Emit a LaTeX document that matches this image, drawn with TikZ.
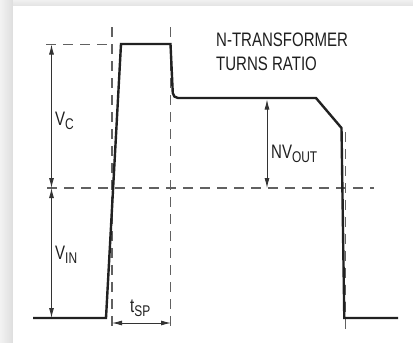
\documentclass[tikz,border=0pt]{standalone}
\usepackage{fontspec}
\setmainfont{Liberation Sans}[FakeStretch=0.77]
\usetikzlibrary{arrows.meta}
\newcommand\subtxt[1]{\raisebox{-4.5pt}{\fontsize{15.5}{15.5}\selectfont #1}}
\begin{document}
\begin{tikzpicture}[x=1pt,y=-1pt,
  lbl/.style={inner sep=0pt, anchor=base west, text=black!88, font=\fontsize{19.5}{23}\selectfont},
  pulse/.style={line width=2.4pt, draw=black!87, line join=miter},
  guide/.style={line width=1.3pt, draw=black!62, dash pattern=on 10pt off 7pt},
  dim/.style={line width=0.9pt, draw=black!80, {Latex[length=10pt,width=5pt]}-{Latex[length=10pt,width=5pt]}}]
\useasboundingbox (0,0) rectangle (413,343);
\shade[left color=black!5, right color=black!13] (0,0) rectangle (13,343);
\shade[top color=black!6, bottom color=black!11] (13,0) rectangle (413,6);
\fill[white] (13,6) rectangle (413,343);
% coordinates
\coordinate (p1) at (33,318);
\coordinate (p2) at (106,318);
\coordinate (p3) at (121,44);
\coordinate (p4) at (170.5,44);
\coordinate (p5) at (173,98);
\coordinate (p6) at (316,98);
\coordinate (p7) at (341.5,128);
\coordinate (p8) at (344.3,318);
\coordinate (p9) at (398,318);
\coordinate (ht1) at (46,44.5);
\coordinate (ht2) at (112,44.5);
\coordinate (v1a) at (112,27);
\coordinate (v1b) at (112,329);
\coordinate (v2a) at (170.7,27);
\coordinate (v2b) at (170.7,329);
\coordinate (v3a) at (345.3,132);
\coordinate (v3b) at (345.3,330);
\coordinate (hm1) at (47,188);
\coordinate (hm2) at (374,188);
\coordinate (ac1) at (51.5,44.5);
\coordinate (ac2) at (51.5,188);
\coordinate (ac3) at (51.5,318);
\coordinate (an1) at (267,99.5);
\coordinate (an2) at (267,188);
\coordinate (at1) at (112,323);
\coordinate (at2) at (171,323);
% guides
\draw[guide] (ht1) -- (ht2);
\draw[guide] (v1a) -- (v1b);
\draw[guide] (v2a) -- (v2b);
\draw[guide] (v3a) -- (v3b);
\draw[guide] (hm1) -- (hm2);
% pulse
\draw[pulse] (p1) -- (p2) -- (p3) -- (p4) [rounded corners=5pt] -- (p5) [sharp corners] -- (p6) -- (p7) -- (p8) -- (p9);
% dimensions
\draw[dim] (ac1) -- (ac2);
\draw[dim] (ac2) -- (ac3);
\draw[dim] (an1) -- (an2);
\draw[dim] (at1) -- (at2);
% labels
\node[lbl] (vc) at (55,125) {V\subtxt{C}};
\node[lbl] (vin) at (55,259) {V\subtxt{IN}};
\node[lbl] (nvout) at (271,158) {NV\subtxt{OUT}};
\node[lbl] (tsp) at (130,312) {t\subtxt{SP}};
\node[lbl] (t1) at (216,46.5) {N-TRANSFORMER};
\node[lbl] (t2) at (216,70) {TURNS RATIO};
\end{tikzpicture}
\end{document}
